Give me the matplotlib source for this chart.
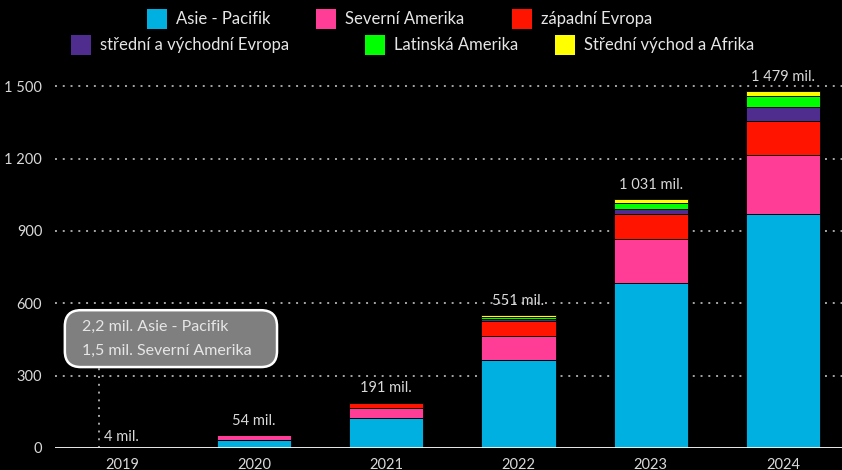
import numpy as np
import matplotlib
matplotlib.use('Agg')
import matplotlib.pyplot as plt
from matplotlib.patches import FancyBboxPatch, Rectangle

plt.rcParams['font.family'] = ['Lato', 'DejaVu Sans']

years = ['2019', '2020', '2021', '2022', '2023', '2024']
asia = [2.2, 32, 123, 365, 685, 970]
n_america = [1.5, 20, 43, 100, 181, 244]
w_europe = [0.1, 1, 20, 62, 105, 142]
ce_europe = [0.1, 0.5, 2, 6, 21, 58]
latam = [0.1, 0.3, 2, 8, 23, 46]
me_africa = [0.0, 0.2, 1, 10, 16, 19]
totals = ['4 mil.', '54 mil.', '191 mil.', '551 mil.', '1 031 mil.', '1 479 mil.']

series = [
    ('Asie - Pacifik', asia, '#00B0E0'),
    ('Severní Amerika', n_america, '#FF3C96'),
    ('západní Evropa', w_europe, '#FF1400'),
    ('střední a východní Evropa', ce_europe, '#4F2D8F'),
    ('Latinská Amerika', latam, '#00FF00'),
    ('Střední východ a Afrika', me_africa, '#FFFF00'),
]

fig = plt.figure(figsize=(8.42, 4.7), dpi=100, facecolor='black')
ax = fig.add_axes([0.065, 0.047, 0.935, 0.785], facecolor='black')

x = np.arange(len(years))
bottom = np.zeros(len(years))
for name, vals, col in series:
    vals = np.array(vals, dtype=float)
    ax.bar(x, vals, 0.56, bottom=bottom, color=col, edgecolor='black', linewidth=0.6, zorder=3)
    bottom += vals

ax.set_xlim(-0.507, 5.446)
ax.set_ylim(0, 1530)
yt = [0, 300, 600, 900, 1200, 1500]
ax.set_yticks(yt)
ax.set_yticklabels(['0', '300', '600', '900', '1 200', '1 500'])
ax.set_xticks(x)
ax.set_xticklabels(years)
ax.tick_params(colors='#d9d9d9', labelsize=10.5, length=0)
ax.tick_params(axis='x', pad=7)
ax.tick_params(axis='y', pad=9)
for s in ax.spines.values():
    s.set_visible(False)
for v in yt[1:]:
    ax.axhline(v, color='#a6a6a6', linestyle=(0, (1, 3)), linewidth=1.4, zorder=1)
ax.axhline(0, color='white', linewidth=2, zorder=4)

# totals above bars
for i, lab in enumerate(totals):
    if i == 0:
        ax.text(-0.136, 45, lab, color='#d9d9d9', fontsize=10.5, ha='left', va='center')
    else:
        ax.text(i, bottom[i] + 30, lab, color='#d9d9d9', fontsize=10.5, ha='center', va='bottom')

# callout for 2019
ax.plot([-0.174, -0.174], [0, 336], color='#a6a6a6', linestyle=(0, (1, 3)), linewidth=1.4, zorder=2)
box = FancyBboxPatch((0.077, 0.219), 0.252, 0.121,
                     boxstyle='round,pad=0.0,rounding_size=0.019', mutation_aspect=842 / 470,
                     transform=fig.transFigure, facecolor='#7f7f7f', edgecolor='white', linewidth=1.8)
fig.patches.append(box)
fig.text(0.097, 0.304, '2,2 mil. Asie - Pacifik', color='#e6e6e6', fontsize=11.5, va='center')
fig.text(0.097, 0.253, '1,5 mil. Severní Amerika', color='#e6e6e6', fontsize=11.5, va='center')

# legend
leg_pos = [(147, 19), (316, 19), (512, 19), (71, 45), (365, 45), (555, 45)]
W, H = 842, 470
for (name, vals, col), (px, py) in zip(series, leg_pos):
    fig.patches.append(Rectangle((px / W, 1 - (py + 10) / H), 20 / W, 20 / H,
                                 transform=fig.transFigure, facecolor=col, edgecolor='none'))
    fig.text((px + 29) / W, 1 - py / H, name, color='#e6e6e6', fontsize=12, va='center')

fig.savefig('out.png', dpi=100, facecolor='black')
